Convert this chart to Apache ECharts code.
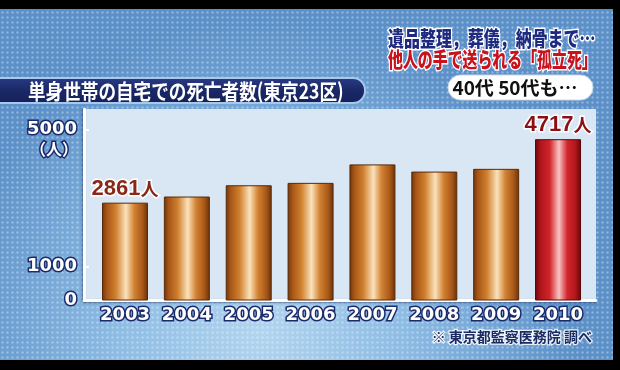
<!DOCTYPE html>
<html>
<head>
<meta charset="utf-8">
<script src="https://cdn.jsdelivr.net/npm/echarts@6/dist/echarts.min.js"></script>
<style>
html,body{margin:0;padding:0;background:#000;}
#chart{width:620px;height:370px;}
</style>
</head>
<body>
<div id="chart"></div>
<script>
// ---- data ----
const years = [2003, 2004, 2005, 2006, 2007, 2008, 2009, 2010];
const deaths = [2861, 3040, 3370, 3440, 3980, 3770, 3850, 4717];
const labeledYears = [2003, 2010];
const highlightYear = 2010;
const yTickLabels = [0, 1000, 5000];
const yTickMarks = [1000, 5000];
const yUnit = '（人）';
const valueSuffix = '人';
const titleText = '単身世帯の自宅での死亡者数(東京23区)';
const headline1 = '遺品整理，葬儀，納骨まで…';
const headline2 = '他人の手で送られる「孤立死」';
const badgeText = '40代 50代も…';
const sourceText = '※ 東京都監察医務院 調べ';

// ---- styles ----
const NAVY = '#1b2a6b';
const orangeGrad = {type:'linear',x:0,y:0,x2:1,y2:0,colorStops:[
  {offset:0,color:'#6e3408'},{offset:0.1,color:'#a65516'},{offset:0.3,color:'#d0802e'},
  {offset:0.52,color:'#fbe2bc'},{offset:0.7,color:'#d28232'},{offset:0.88,color:'#a85818'},{offset:1,color:'#68300a'}]};
const redGrad = {type:'linear',x:0,y:0,x2:1,y2:0,colorStops:[
  {offset:0,color:'#6a070b'},{offset:0.12,color:'#b0151c'},{offset:0.32,color:'#d2252c'},
  {offset:0.52,color:'#f8c4c4'},{offset:0.7,color:'#d2262d'},{offset:0.88,color:'#b0161c'},{offset:1,color:'#66060a'}]};

function dotPattern(){
  const c = document.createElement('canvas');
  c.width = 5; c.height = 5;
  const g = c.getContext('2d');
  g.fillStyle = 'rgba(255,255,255,0.32)';
  g.beginPath(); g.arc(2.5,2.5,1.2,0,Math.PI*2); g.fill();
  return c;
}

const chart = echarts.init(document.getElementById('chart'), null, {renderer:'canvas'});

const seriesData = years.map((y,i)=>{
  const hi = y === highlightYear;
  const col = hi ? '#8a1016' : '#8a2818';
  return {
    value:[y, deaths[i]],
    itemStyle:{color: hi ? redGrad : orangeGrad, borderColor: hi ? '#5a0608' : '#5a2a08', borderWidth:1},
    label:{show: labeledYears.includes(y),
      rich:{n:{color:col, fontFamily:"'Liberation Sans'", fontWeight:'bold', fontSize:22, textBorderColor:'#fff', textBorderWidth:3},
            u:{color:col, fontFamily:"'Noto Sans CJK JP'", fontWeight:'bold', fontSize:18, textBorderColor:'#fff', textBorderWidth:3}}}
  };
});

const labelFont = {color:'#ffffff', fontFamily:'DejaVu Sans', fontWeight:'bold', fontSize:18, textBorderColor: NAVY, textBorderWidth:3};

const option = {
  backgroundColor:'#000',
  animation:false,
  grid:{left:84, right:24, top:109, bottom:69.5, show:true, backgroundColor:'#d8e7f3', borderWidth:0},
  xAxis:{
    type:'value',
    min: years[0] - 0.663,
    max: years[years.length-1] + 0.614,
    splitLine:{show:false},
    axisTick:{show:false},
    axisLine:{show:true, lineStyle:{color:'#ffffff', width:3, shadowColor:'rgba(20,40,90,0.55)', shadowBlur:2, shadowOffsetY:1}},
    axisLabel:Object.assign({customValues: years, formatter: v => String(v), margin:6}, labelFont)
  },
  yAxis:{
    type:'value',
    min:0, max:5600,
    splitLine:{show:false},
    axisLine:{show:true, lineStyle:{color:'#ffffff', width:3, shadowColor:'rgba(20,40,90,0.55)', shadowBlur:2, shadowOffsetX:-1}},
    axisTick:{show:true, inside:true, length:5, customValues: yTickMarks, lineStyle:{color:'#ffffff', width:2}},
    axisLabel:Object.assign({customValues: yTickLabels, formatter: v => String(v), margin:7}, labelFont)
  },
  series:[{
    type:'bar',
    barWidth:46,
    data: seriesData,
    label:{
      position:'top', distance:3,
      formatter: p => '{n|' + p.value[1] + '}{u|' + valueSuffix + '}'
    }
  }],
  graphic:[
    // background gradient
    {type:'rect', z:-100, silent:true, shape:{x:0,y:0,width:620,height:370},
      style:{fill:{type:'radial',x:0.42,y:0.9,r:0.85,colorStops:[
        {offset:0,color:'#b2d5ef'},{offset:0.45,color:'#8dbce4'},{offset:1,color:'#5b90c8'}]}}},
    {type:'rect', z:-99, silent:true, shape:{x:0,y:0,width:620,height:370},
      style:{fill:{image: dotPattern(), repeat:'repeat'}}},
    // black frame
    {type:'rect', z:50, silent:true, shape:{x:0,y:0,width:620,height:9}, style:{fill:'#000'}},
    {type:'rect', z:50, silent:true, shape:{x:0,y:360,width:620,height:10}, style:{fill:'#000'}},
    {type:'rect', z:50, silent:true, shape:{x:613,y:0,width:7,height:370}, style:{fill:'#000'}},
    // title banner
    {type:'rect', z:20, silent:true, shape:{x:-20,y:78,width:385,height:25,r:12},
      style:{fill:{type:'linear',x:0,y:0,x2:0,y2:1,colorStops:[{offset:0,color:'#2a3c86'},{offset:0.5,color:'#1a2866'},{offset:1,color:'#14205a'}]},
        stroke:'#a8c8ec', lineWidth:2}},
    {type:'text', z:21, silent:true, x:28, y:91, scaleX:0.88, scaleY:1.05,
      style:{text:titleText, fill:'#ffffff', font:"bold 20px 'Noto Sans CJK JP'", align:'left', verticalAlign:'middle'}},
    // headlines
    {type:'text', z:21, silent:true, x:388, y:38, scaleX:0.76,
      style:{text:headline1, fill:'#1e2a80', stroke:'#ffffff', lineWidth:3, font:"900 21px 'Noto Sans CJK JP'", align:'left', verticalAlign:'middle'}},
    {type:'text', z:21, silent:true, x:388, y:59, scaleX:0.71,
      style:{text:headline2, fill:'#c8121c', stroke:'#ffffff', lineWidth:3, font:"900 21px 'Noto Sans CJK JP'", align:'left', verticalAlign:'middle'}},
    {type:'rect', z:20, silent:true, shape:{x:448,y:75,width:145,height:25,r:12.5},
      style:{fill:'#ffffff', stroke:'#c8d8e8', lineWidth:1}},
    {type:'text', z:21, silent:true, x:515, y:88,
      style:{text:badgeText, fill:'#111111', font:"bold 19px 'Noto Sans CJK JP'", align:'center', verticalAlign:'middle'}},
    // y unit
    {type:'text', z:21, silent:true, x:78, y:149,
      style:{text:yUnit, fill:'#ffffff', stroke:NAVY, lineWidth:3, font:"bold 16px 'Noto Sans CJK JP'", align:'right', verticalAlign:'middle'}},
    // source
    {type:'text', z:21, silent:true, x:592, y:337,
      style:{text:sourceText, fill:'#1a2a62', stroke:'rgba(255,255,255,0.85)', lineWidth:2.5, font:"bold 14px 'Noto Sans CJK JP'", align:'right', verticalAlign:'middle'}}
  ]
};
chart.setOption(option);
</script>
</body>
</html>
